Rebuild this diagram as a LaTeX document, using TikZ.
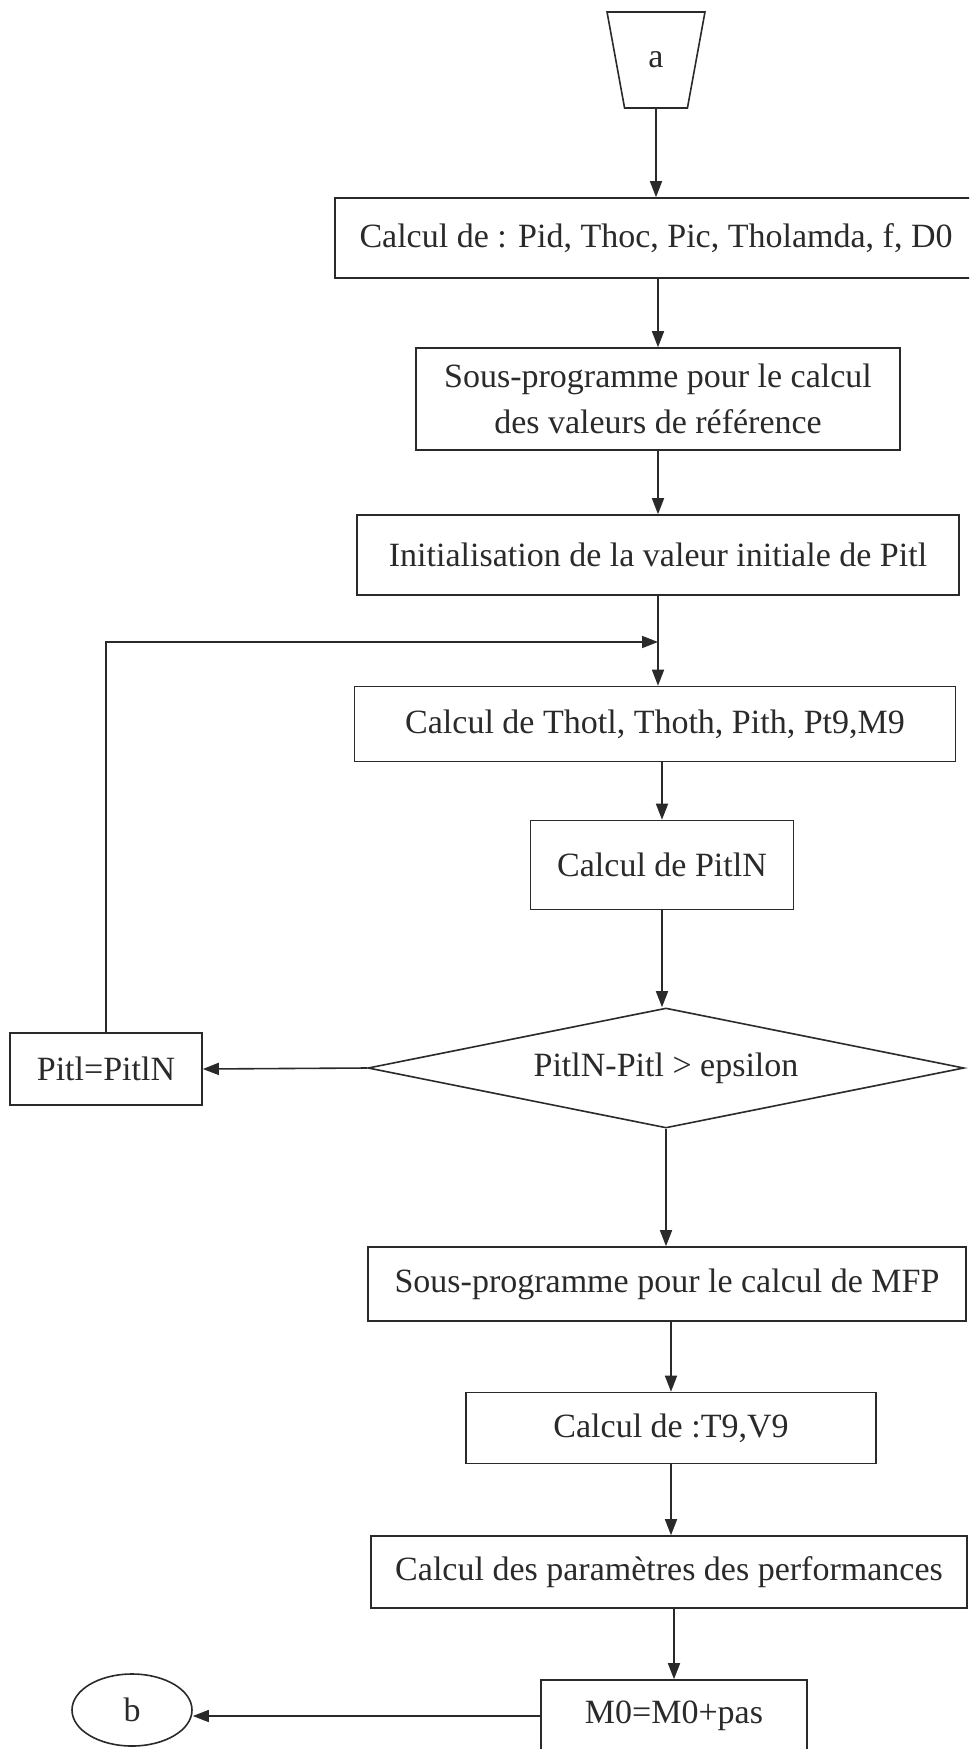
\documentclass[tikz,border=0pt]{standalone}
\usepackage{fontspec}
\setmainfont{Liberation Serif}
\usetikzlibrary{shapes.geometric,arrows.meta}
\definecolor{ink}{HTML}{2A2A2A}
\begin{document}
\begin{tikzpicture}[x=0.5pt,y=-0.5pt,
  every node/.style={font=\fontsize{17}{23}\selectfont, text=ink},
  stepbox/.style 2 args={draw=ink, line width=0.8pt, rectangle,
    minimum width=#1*0.5pt, minimum height=#2*0.5pt, inner sep=0pt, align=center},
  trap/.style={draw=ink, line width=0.8pt, trapezium, shape border rotate=180,
    trapezium stretches=true, trapezium angle=75.5,
    minimum width=49pt, minimum height=48pt, inner sep=0pt},
  dec/.style={draw=ink, line width=0.8pt, diamond, aspect=5,
    minimum width=298pt, minimum height=60pt, inner sep=0pt},
  term/.style={draw=ink, line width=0.8pt, ellipse,
    minimum width=60pt, minimum height=36pt, inner sep=0pt},
  arr/.style={draw=ink, line width=0.8pt, -{Triangle[length=8pt,width=6pt]}},
]
\useasboundingbox (0,0) rectangle (969,1749);
\fill[white] (0,0) rectangle (969,1749);
\clip (0,0) rectangle (969,1749);

% connector a
\node[trap] (a) at (656,60) {a};

% main column of steps
\node[stepbox={642}{80}] (c1) at (656,238) {Calcul de : Pid, Thoc, Pic, Tholamda, f, D0};
\node[stepbox={484}{102}] (c2) at (658,399) {Sous-programme pour le calcul\\des valeurs de référence};
\node[stepbox={602}{80}] (c3) at (658,555) {Initialisation de la valeur initiale de Pitl};
\node[stepbox={601}{75}] (c4) at (655,724) {Calcul de Thotl, Thoth, Pith, Pt9,M9};
\node[stepbox={263}{89}] (c5) at (662,865) {Calcul de PitlN};
\node[dec] (d) at (666,1068) {PitlN-Pitl > epsilon};
\node[stepbox={192}{72}] (p) at (106,1069) {Pitl=PitlN};
\node[stepbox={598}{74}] (c6) at (667,1284) {Sous-programme pour le calcul de MFP};
\node[stepbox={410}{71}] (c7) at (671,1428) {Calcul de :T9,V9};
\node[stepbox={596}{72}] (c8) at (669,1572) {Calcul des paramètres des performances};
\node[stepbox={266}{72}] (c9) at (674,1716) {M0=M0+pas};

% connector b
\node[term] (b) at (132,1710) {b};

% flow
\draw[arr] (a.south) -- (a.south |- c1.north);
\draw[arr] (c1.south -| c2.north) -- (c2.north);
\draw[arr] (c2.south) -- (c2.south |- c3.north);
\coordinate (loopy) at (0,642);
\coordinate (j) at (c3.south |- loopy);
\draw[arr] (c3.south) -- (c3.south |- c4.north);
\draw[arr] (c4.south -| c5.north) -- (c5.north);
\draw[arr] (c5.south) -- (c5.south |- d.north);
\draw[arr] (d.west) -- (p.east);
\draw[arr] (p.north) -- (p.north |- loopy) -- (j);
\draw[arr] (d.south) -- (d.south |- c6.north);
\draw[arr] (c6.south -| c7.north) -- (c7.north);
\draw[arr] (c7.south) -- (c7.south |- c8.north);
\draw[arr] (c8.south -| c9.north) -- (c9.north);
\draw[arr] (c9.west) -- (c9.west -| b.east);
\end{tikzpicture}
\end{document}
